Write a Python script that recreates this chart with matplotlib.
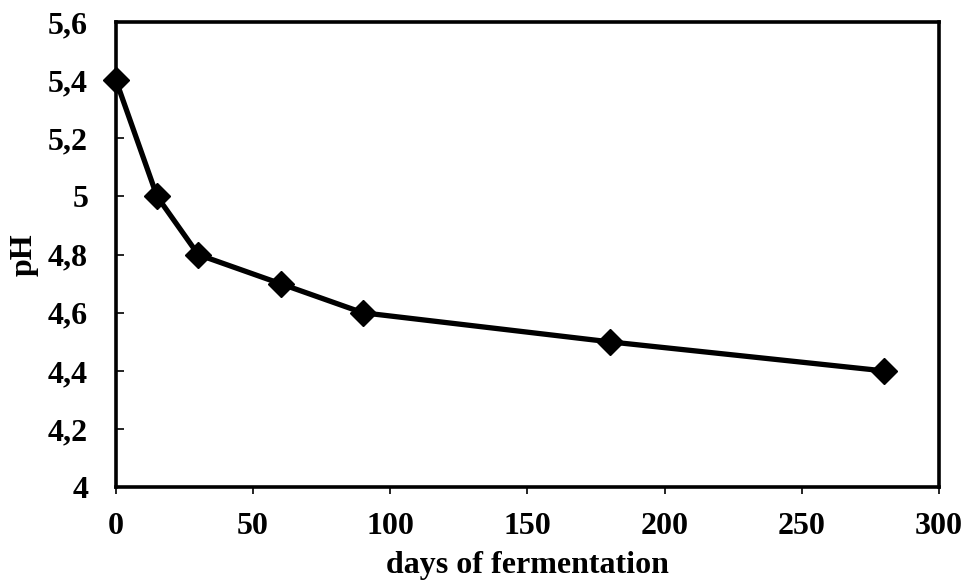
import matplotlib
matplotlib.use("Agg")
import matplotlib.pyplot as plt

days = [0, 15, 30, 60, 90, 180, 280]
ph = [5.4, 5.0, 4.8, 4.7, 4.6, 4.5, 4.4]
x_ticks = [0, 50, 100, 150, 200, 250, 300]
y_ticks = [4.0, 4.2, 4.4, 4.6, 4.8, 5.0, 5.2, 5.4, 5.6]
y_tick_labels = ["4", "4,2", "4,4", "4,6", "4,8", "5", "5,2", "5,4", "5,6"]

plt.rcParams['font.family'] = ['Liberation Serif', 'DejaVu Serif']
plt.rcParams['font.weight'] = 'bold'

fig = plt.figure(figsize=(9.66, 5.87), dpi=100)
ax = fig.add_axes([0.120, 0.170, 0.852, 0.7925])

ax.plot(days, ph, color='black', linewidth=3.8, marker='D', markersize=13,
        markerfacecolor='black', markeredgecolor='black', clip_on=False, zorder=3)

ax.set_xlim(0, 300)
ax.set_ylim(4.0, 5.6)
ax.set_xticks(x_ticks)
ax.set_xticklabels([str(v) for v in x_ticks], fontsize=23, fontweight='bold')
ax.set_yticks(y_ticks)
ax.set_yticklabels(y_tick_labels, fontsize=23, fontweight='bold')
ax.tick_params(axis='x', direction='out', length=5, width=1.2, pad=13)
ax.tick_params(axis='y', direction='in', length=6, width=1.2, pad=20)

for s in ax.spines.values():
    s.set_linewidth(2.6)
    s.set_color('black')

ax.set_xlabel('days of fermentation', fontsize=23, fontweight='bold', labelpad=7)
ax.set_ylabel('pH', fontsize=23, fontweight='bold', labelpad=7)

fig.savefig('out.png', dpi=100)
